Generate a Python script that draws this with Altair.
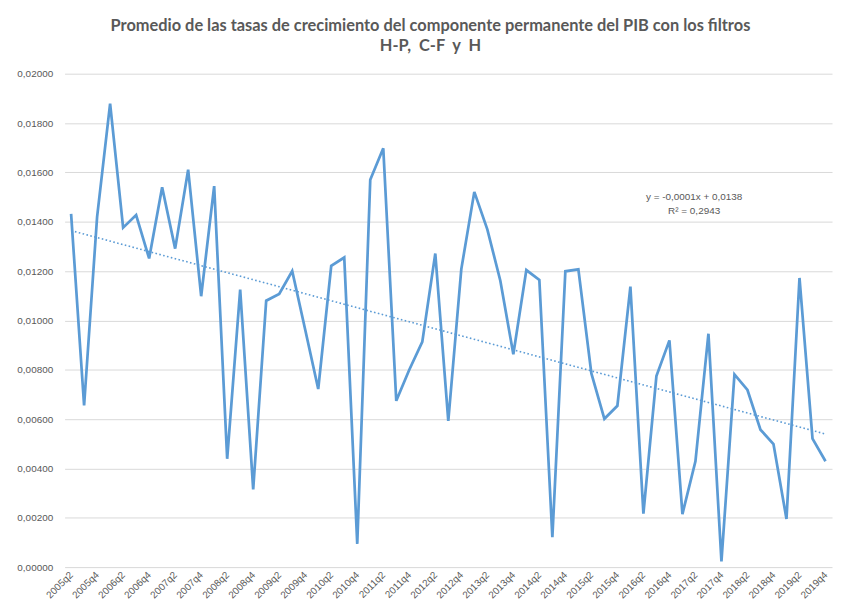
import altair as alt
import pandas as pd

quarters = [
    "2005q2", "2005q3", "2005q4",
    "2006q1", "2006q2", "2006q3", "2006q4",
    "2007q1", "2007q2", "2007q3", "2007q4",
    "2008q1", "2008q2", "2008q3", "2008q4",
    "2009q1", "2009q2", "2009q3", "2009q4",
    "2010q1", "2010q2", "2010q3", "2010q4",
    "2011q1", "2011q2", "2011q3", "2011q4",
    "2012q1", "2012q2", "2012q3", "2012q4",
    "2013q1", "2013q2", "2013q3", "2013q4",
    "2014q1", "2014q2", "2014q3", "2014q4",
    "2015q1", "2015q2", "2015q3", "2015q4",
    "2016q1", "2016q2", "2016q3", "2016q4",
    "2017q1", "2017q2", "2017q3", "2017q4",
    "2018q1", "2018q2", "2018q3", "2018q4",
    "2019q1", "2019q2", "2019q3", "2019q4",
]

values = [
    0.01432, 0.00655, 0.01420,
    0.01879, 0.01376, 0.01427, 0.01251,
    0.01540, 0.01291, 0.01611, 0.01098,
    0.01544, 0.00439, 0.01125, 0.00315,
    0.01080, 0.01107, 0.01200, 0.00962,
    0.00722, 0.01221, 0.01255, 0.00094,
    0.01570, 0.01698, 0.00674, 0.00800,
    0.00913, 0.01271, 0.00593, 0.01208,
    0.01521, 0.01369, 0.01161, 0.00863,
    0.01204, 0.01164, 0.00121, 0.01199,
    0.01207, 0.00785, 0.00601, 0.00654,
    0.01137, 0.00217, 0.00774, 0.00919,
    0.00215, 0.00429, 0.00946, 0.00023,
    0.00781, 0.00718, 0.00557, 0.00499,
    0.00195, 0.01172, 0.00521, 0.00429,
]

title_lines = [
    "Promedio de las tasas de crecimiento del componente permanente del PIB con los filtros",
    "H-P,\u00a0\u00a0C-F\u00a0\u00a0y\u00a0\u00a0H",
]
trend_text = ["y = -0,0001x + 0,0138", "R² = 0,2943"]
trend_text_x = 48.9
trend_text_y = 0.0150
y_ticks = [0.0, 0.002, 0.004, 0.006, 0.008, 0.010, 0.012, 0.014, 0.016, 0.018, 0.020]

GREY = "#595959"
BLUE = "#5b9bd5"
FONT = "Liberation Sans"

n = len(values)
df = pd.DataFrame({"idx": list(range(1, n + 1)), "quarter": quarters, "val": values})

label_expr = "[" + ",".join("'%s'" % q for q in quarters) + "][datum.value - 1]"

x_scale = alt.Scale(domain=[0.5, n + 0.5], nice=False, zero=False)
y_scale = alt.Scale(domain=[0, 0.02], nice=False)

x_axis = alt.Axis(
    values=list(range(1, n + 1, 2)),
    labelExpr=label_expr,
    labelAngle=-45,
    labelAlign="right",
    labelBaseline="middle",
    ticks=False,
    tickSize=0,
    domain=False,
    grid=False,
    labelPadding=6,
    labelFontSize=10,
    labelFont=FONT,
    labelColor=GREY,
    labelOverlap=False,
    labelFlush=False,
    labelBound=False,
)

y_axis = alt.Axis(
    values=y_ticks,
    labelExpr="replace(format(datum.value, '.5f'), '.', ',')",
    grid=True,
    gridColor="#d9d9d9",
    gridWidth=1,
    domain=False,
    ticks=False,
    tickSize=0,
    labelPadding=12,
    labelFontSize=10,
    labelFont=FONT,
    labelColor=GREY,
)

x_enc = alt.X("idx:Q", scale=x_scale, axis=x_axis, title=None)
y_enc = alt.Y("val:Q", scale=y_scale, axis=y_axis, title=None)

base = alt.Chart(df)

line = base.mark_line(color=BLUE, strokeWidth=2.75, strokeJoin="miter").encode(x=x_enc, y=y_enc)

trend = (
    base.transform_regression("idx", "val", method="linear")
    .mark_line(color=BLUE, strokeWidth=1.6, strokeDash=[1.6, 2.4])
    .encode(x=x_enc, y=y_enc)
)

ann = (
    alt.Chart(alt.Data(values=[{"idx": trend_text_x, "val": trend_text_y, "t": trend_text}]))
    .mark_text(fontSize=10, font=FONT, color=GREY, lineHeight=14, align="center", baseline="middle")
    .encode(x=x_enc, y=y_enc, text=alt.Text("t:N"))
)

chart = (
    alt.layer(line, trend, ann)
    .properties(
        width=773,
        height=497,
        autosize=alt.AutoSizeParams(type="none"),
        padding={"left": 57, "top": 64, "right": 2, "bottom": 36},
        title=alt.TitleParams(
            text=title_lines,
            font="Lato",
            fontSize=16.5,
            fontWeight="bold",
            color=GREY,
            anchor="middle",
            dx=-18,
            offset=14,
            lineHeight=21,
        ),
        background="white",
    )
    .configure_view(stroke=None)
)

chart.save("out.html", embed_options={"renderer": "svg", "actions": False})
